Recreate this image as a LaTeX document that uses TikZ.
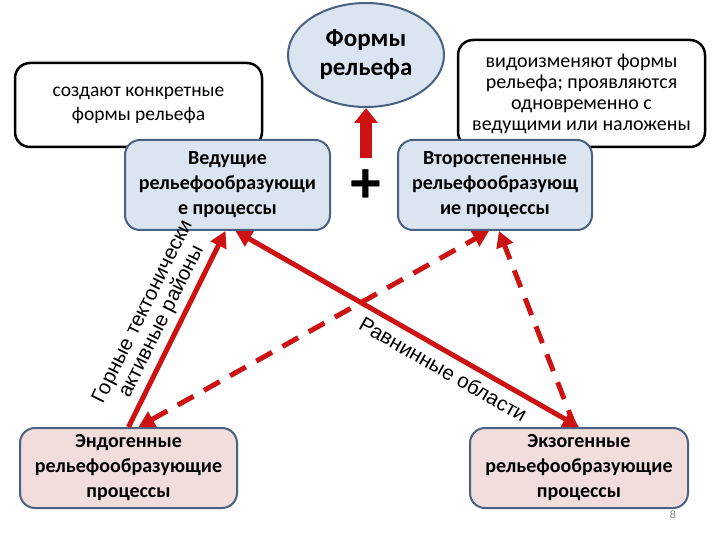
\documentclass[tikz,border=0pt]{standalone}
\usepackage{fontspec}
\setmainfont{Carlito}
\newfontfamily\labelfont{Liberation Sans}
\usetikzlibrary{arrows.meta,shapes.geometric}
\definecolor{linkred}{RGB}{204,18,18}
\definecolor{leadblue}{RGB}{219,228,241}
\definecolor{rootpink}{RGB}{242,221,221}
\definecolor{rimblue}{RGB}{74,98,130}

\begin{document}
\begin{tikzpicture}[x=1pt,y=-1pt,
  note/.style={draw=black,line width=2.5pt,rounded corners=15pt,fill=white,align=center,inner sep=0pt,font=\fontsize{19.5}{24}\selectfont},
  lead/.style={draw=rimblue,line width=2pt,rounded corners=15pt,fill=leadblue,align=center,inner sep=0pt,font=\bfseries\fontsize{20}{25}\selectfont},
  root/.style={lead,fill=rootpink},
  link/.style={draw=linkred,line width=5pt,-{Triangle[length=16pt,width=17pt]}},
  hint/.style={link,dash pattern=on 18pt off 12pt},
  edgetext/.style={sloped,align=center,text=black,inner sep=1pt,font=\labelfont\fontsize{20.5}{21}\selectfont}]
\useasboundingbox[fill=white] (0,0) rectangle (720,540);
\node[note,minimum width=247pt,minimum height=84pt] (create) at (138.5,105) {создают конкретные\\формы рельефа};
\node[note,minimum width=247pt,minimum height=107pt,font=\fontsize{20}{21}\selectfont] (modify) at (581.5,93.5) {видоизменяют формы\\рельефа; проявляются\\одновременно с\\ведущими или наложены};
\node[ellipse,draw=rimblue,line width=2pt,fill=leadblue,minimum width=156pt,minimum height=104pt,inner sep=0pt,align=center,font=\bfseries\fontsize{25}{29}\selectfont] (form) at (366,55) {Формы\\рельефа};
\node[lead,minimum width=205pt,minimum height=90pt] (major) at (227.5,185) {Ведущие\\рельефообразующи\\е процессы};
\node[lead,minimum width=194pt,minimum height=90pt] (minor) at (495,185) {Второстепенные\\рельефообразующ\\ие процессы};
\node[root,minimum width=217pt,minimum height=80pt] (endo) at (128.5,468) {Эндогенные\\рельефообразующие\\процессы};
\node[root,minimum width=218pt,minimum height=80pt] (exo) at (579,468) {Экзогенные\\рельефообразующие\\процессы};
\node[inner sep=0pt,font=\labelfont\bfseries\fontsize{56}{56}\selectfont] (plus) at (366,186) {+};
\node[text=gray,font=\labelfont\fontsize{11}{11}\selectfont] (page) at (673,515) {8};
\coordinate (liftfoot) at (366,158);
\draw[draw=linkred,line width=12pt,-{Triangle[length=15pt,width=23pt]}] (liftfoot) -- (form.south);
\draw[link] (endo.north) -- node[edgetext,above=4pt,pos=0.5] {Горные тектонически\\активные районы} ([xshift=-2pt]major.south);
\draw[link,{Triangle[length=16pt,width=17pt]}-{Triangle[length=16pt,width=17pt]}] ([xshift=8pt]major.south) -- node[edgetext,below=6pt,pos=0.63] {Равнинные области} (exo.north);
\draw[hint,{Triangle[length=16pt,width=17pt]}-{Triangle[length=16pt,width=17pt]}] ([xshift=10pt]endo.north) -- ([xshift=-6pt]minor.south);
\draw[hint] ([xshift=-4pt]exo.north) -- ([xshift=4pt]minor.south);
\end{tikzpicture}
\end{document}
